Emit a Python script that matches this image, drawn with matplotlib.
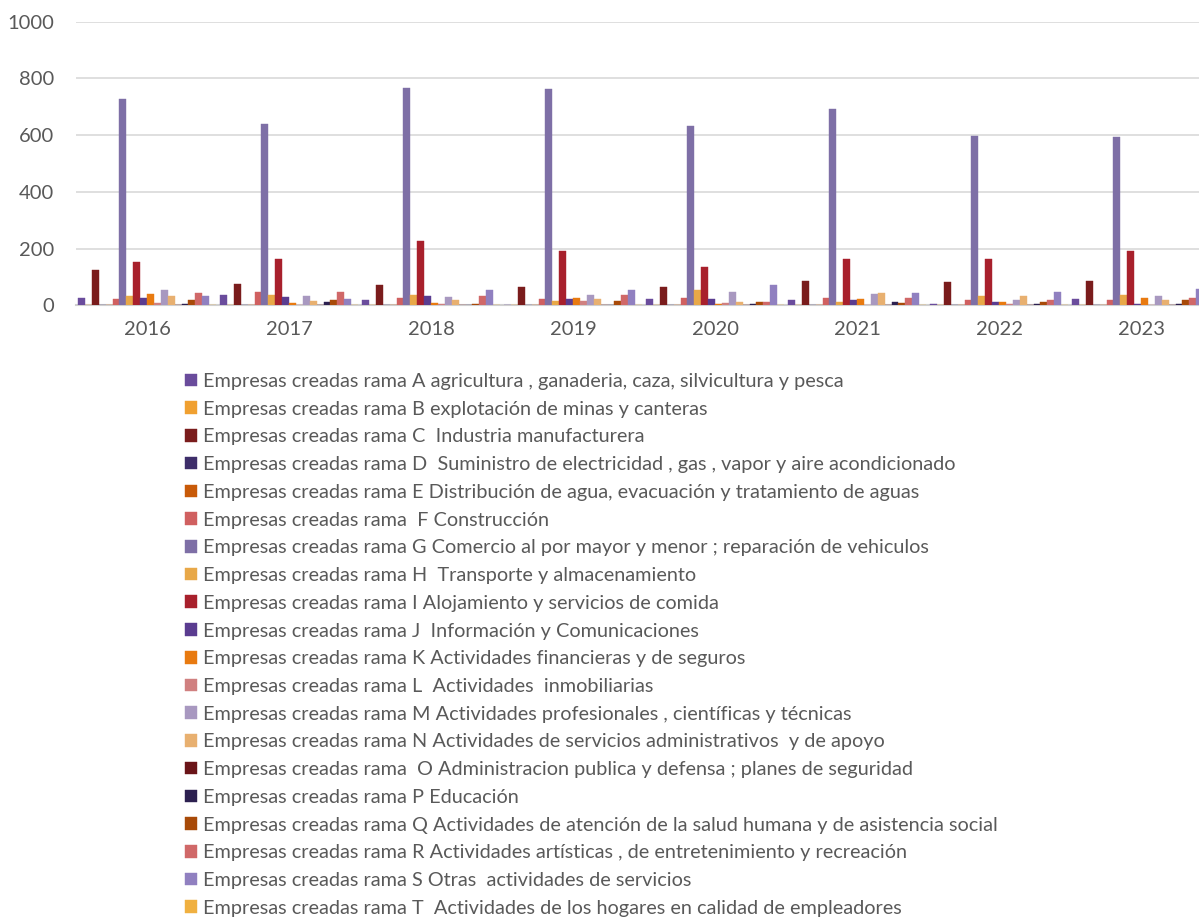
import numpy as np
import matplotlib
matplotlib.use("Agg")
from matplotlib import pyplot as plt

plt.rcParams['font.family'] = ['Lato', 'DejaVu Sans']

years = ['2016', '2017', '2018', '2019', '2020', '2021', '2022', '2023']

labels = [
    "Empresas creadas rama A agricultura , ganaderia, caza, silvicultura y pesca",
    "Empresas creadas rama B explotación de minas y canteras",
    "Empresas creadas rama C  Industria manufacturera",
    "Empresas creadas rama D  Suministro de electricidad , gas , vapor y aire acondicionado",
    "Empresas creadas rama E Distribución de agua, evacuación y tratamiento de aguas",
    "Empresas creadas rama  F Construcción",
    "Empresas creadas rama G Comercio al por mayor y menor ; reparación de vehiculos",
    "Empresas creadas rama H  Transporte y almacenamiento",
    "Empresas creadas rama I Alojamiento y servicios de comida",
    "Empresas creadas rama J  Información y Comunicaciones",
    "Empresas creadas rama K Actividades financieras y de seguros",
    "Empresas creadas rama L  Actividades  inmobiliarias",
    "Empresas creadas rama M Actividades profesionales , científicas y técnicas",
    "Empresas creadas rama N Actividades de servicios administrativos  y de apoyo",
    "Empresas creadas rama  O Administracion publica y defensa ; planes de seguridad",
    "Empresas creadas rama P Educación",
    "Empresas creadas rama Q Actividades de atención de la salud humana y de asistencia social",
    "Empresas creadas rama R Actividades artísticas , de entretenimiento y recreación",
    "Empresas creadas rama S Otras  actividades de servicios",
    "Empresas creadas rama T  Actividades de los hogares en calidad de empleadores",
]

# values per rama, one per year
rama_A = [26, 36, 19, 0, 22, 19, 6, 22]
rama_B = [0, 0, 0, 0, 0, 0, 0, 0]
rama_C = [125, 75, 71, 64, 64, 86, 83, 86]
rama_D = [0, 0, 0, 0, 0, 0, 0, 0]
rama_E = [3, 3, 0, 0, 0, 0, 0, 0]
rama_F = [22, 46, 26, 22, 26, 26, 19, 19]
rama_G = [729, 641, 765, 764, 633, 694, 597, 595]
rama_H = [32, 36, 36, 15, 55, 12, 32, 36]
rama_I = [153, 163, 226, 191, 134, 163, 163, 191]
rama_J = [25, 29, 32, 22, 22, 19, 12, 5]
rama_K = [39, 8, 10, 26, 5, 22, 12, 25]
rama_L = [8, 3, 6, 15, 8, 2, 5, 2]
rama_M = [55, 32, 29, 36, 46, 39, 19, 32]
rama_N = [32, 15, 19, 22, 12, 43, 32, 19]
rama_O = [0, 0, 0, 0, 0, 0, 0, 0]
rama_P = [5, 11, 0, 2, 5, 12, 5, 5]
rama_Q = [19, 19, 6, 15, 12, 8, 12, 19]
rama_R = [43, 46, 32, 36, 12, 26, 19, 26]
rama_S = [32, 22, 55, 55, 71, 43, 46, 57]
rama_T = [0, 0, 0, 0, 0, 0, 0, 0]

series = [rama_A, rama_B, rama_C, rama_D, rama_E, rama_F, rama_G, rama_H, rama_I, rama_J,
          rama_K, rama_L, rama_M, rama_N, rama_O, rama_P, rama_Q, rama_R, rama_S, rama_T]

colors = ['#6A4C9C', '#F0A030', '#7A1C1C', '#3E2E6A', '#C85A08',
          '#D06060', '#7E6FA6', '#E8A848', '#A8202C', '#5A3C90',
          '#E87A10', '#D08080', '#A898C0', '#E8B070', '#6A1418',
          '#2C2050', '#A84A08', '#D06868', '#9080C0', '#F0B040']

fig = plt.figure(figsize=(11.99, 9.17), dpi=100)
# plot area runs past the right edge, as in the original screenshot
ax = fig.add_axes([76/1199, 1 - 305.5/917, 1136/1199, 283.8/917])

x = np.arange(len(years))
bw = 6.9/142
start = -0.5 + 2/142
handles = []
for j, (vals, c) in enumerate(zip(series, colors)):
    h = ax.bar(x + start + (j + 0.5)*bw, vals, width=bw, color=c,
               edgecolor=c, linewidth=0.3, zorder=3, label=labels[j])
    handles.append(h)

ax.set_xlim(-0.5, 7.5)
ax.set_ylim(0, 1000)
ax.set_yticks(range(0, 1001, 200))
ax.set_xticks(x)
ax.set_xticklabels(years)
ax.yaxis.grid(True, color='#D9D9D9', linewidth=1.2, zorder=0)
ax.set_axisbelow(True)
for s in ['top', 'right', 'left']:
    ax.spines[s].set_visible(False)
ax.spines['bottom'].set_color('#D0D0D0')
ax.spines['bottom'].set_linewidth(1.5)
ax.tick_params(length=0, labelsize=14.5, labelcolor='#595959')
ax.tick_params(axis='y', pad=16)
ax.tick_params(axis='x', pad=11)

fig.legend(handles=handles, loc='upper left', bbox_to_anchor=(185/1199, 1 - 373/917),
           frameon=False, fontsize=14.3, labelspacing=0.54, handlelength=0.6,
           handleheight=0.6, handletextpad=0.3, borderpad=0, borderaxespad=0,
           labelcolor='#595959')

fig.savefig('out.png', dpi=100)
